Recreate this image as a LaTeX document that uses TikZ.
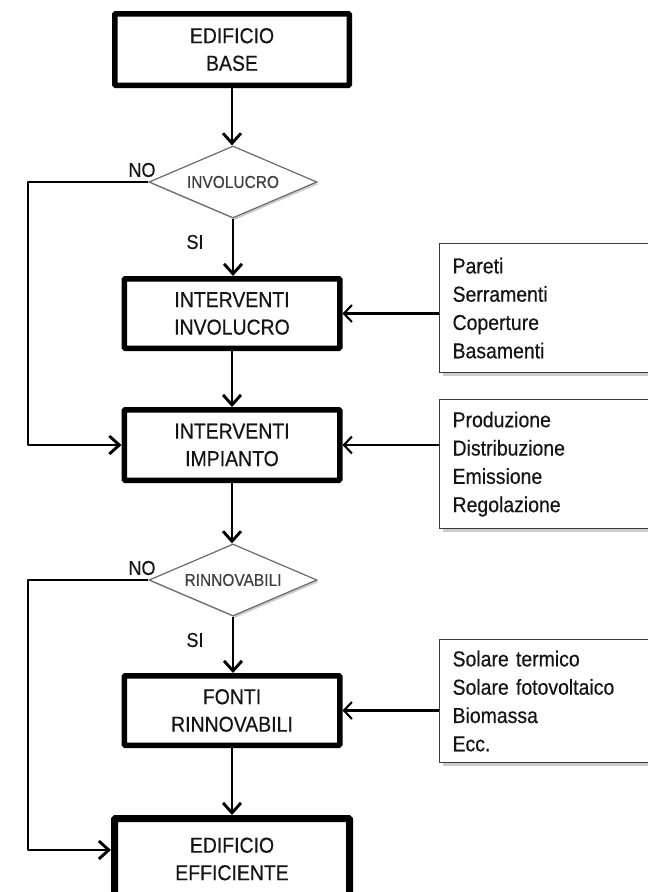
\documentclass[tikz,border=0pt]{standalone}
\usepackage{fontspec}
\setmainfont{Liberation Sans}[FakeStretch=0.9, FakeBold=0.4]
\usetikzlibrary{arrows.meta,shapes.geometric,shadows}

\definecolor{ink}{HTML}{151515}
\definecolor{diamondline}{HTML}{6A6A6A}
\definecolor{diamondtext}{HTML}{404040}
\definecolor{listline}{HTML}{3C3C3C}
\definecolor{shadowgray}{HTML}{CDCDCD}

\tikzset{
  mainbox/.style={draw=black, line width=5.5pt, rounded corners=1pt, fill=white,
    align=center, text=ink, inner sep=0pt,
    font=\fontsize{21.6}{27.5}\selectfont},
  decision/.style={diamond, draw=diamondline, line width=1.2pt, fill=white,
    aspect=2.33, minimum width=168pt, minimum height=72pt, inner sep=0pt,
    text=diamondtext, font=\fontsize{17.2}{18}\selectfont,
    drop shadow={shadow xshift=2pt, shadow yshift=-2pt, fill=shadowgray, opacity=1}},
  listbox/.style={draw=listline, line width=1.2pt, fill=white, anchor=north west,
    align=left, text=ink, text width=190pt, inner xsep=13pt, inner ysep=0pt,
    font=\fontsize{21.6}{28.3}\selectfont,
    drop shadow={shadow xshift=3pt, shadow yshift=-3pt, fill=shadowgray, opacity=1}},
  flow/.style={line width=2.9pt, draw=black, line join=round,
    -{Straight Barb[length=10pt,width=18pt]}},
  feed/.style={line width=2.1pt, draw=black,
    -{Straight Barb[length=8pt,width=17pt]}},
  answer/.style={text=ink, inner sep=0pt, font=\fontsize{20}{22}\selectfont},
}

\begin{document}
\begin{tikzpicture}[x=1pt,y=-1pt]
\useasboundingbox (0,0) rectangle (648,892);

% main column
\node[mainbox, minimum width=234.5pt, minimum height=71.5pt] (b1) at (232,49.5) {EDIFICIO\\BASE};
\node[decision] (d1) at (233,182) {INVOLUCRO};
\node[mainbox, minimum width=215.5pt, minimum height=69.5pt] (b2) at (232,313.5) {INTERVENTI\\INVOLUCRO};
\node[mainbox, minimum width=215.5pt, minimum height=70.5pt] (b3) at (232,445) {INTERVENTI\\IMPIANTO};
\node[decision] (d2) at (233,580) {RINNOVABILI};
\node[mainbox, minimum width=215.5pt, minimum height=69.5pt] (b4) at (232,710.5) {FONTI\\RINNOVABILI};
\node[mainbox, line width=7pt, minimum width=235pt, minimum height=81pt] (b5) at (232,859) {EDIFICIO\\EFFICIENTE};

% side lists
\node[listbox, minimum height=129pt] (r1) at (439,243) {Pareti\\Serramenti\\Coperture\\Basamenti};
\node[listbox, minimum height=129pt] (r2) at (439,399) {Produzione\\Distribuzione\\Emissione\\Regolazione};
\node[listbox, minimum height=123pt] (r3) at (439,639) {Solare termico\\Solare fotovoltaico\\Biomassa\\Ecc.};

% answer labels
\node[answer] (no1) at (142,170) {NO};
\node[answer] (si1) at (195,242) {SI};
\node[answer] (no2) at (142,568) {NO};
\node[answer] (si2) at (195,640) {SI};

% left bypass rail
\coordinate (rail) at (28,0);

% main flow
\draw[flow] (b1.south) -- (b1.south |- d1.north);
\draw[flow] (d1.south) -- (d1.south |- b2.north);
\draw[flow] (b2.south) -- (b2.south |- b3.north);
\draw[flow] (b3.south) -- (b3.south |- d2.north);
\draw[flow] (d2.south) -- (d2.south |- b4.north);
\draw[flow] (b4.south) -- (b4.south |- b5.north);

% bypass branches
\draw[flow] (d1.west) -- (d1.west -| rail) |- (b3.west);
\draw[flow] (d2.west) -- (d2.west -| rail) |- ([yshift=9pt]b5.west);

% inputs from the side lists
\draw[feed] (r1.west |- b2.east) -- (b2.east);
\draw[feed] (r2.west |- b3.east) -- (b3.east);
\draw[feed] (r3.west |- b4.east) -- (b4.east);
\end{tikzpicture}
\end{document}
